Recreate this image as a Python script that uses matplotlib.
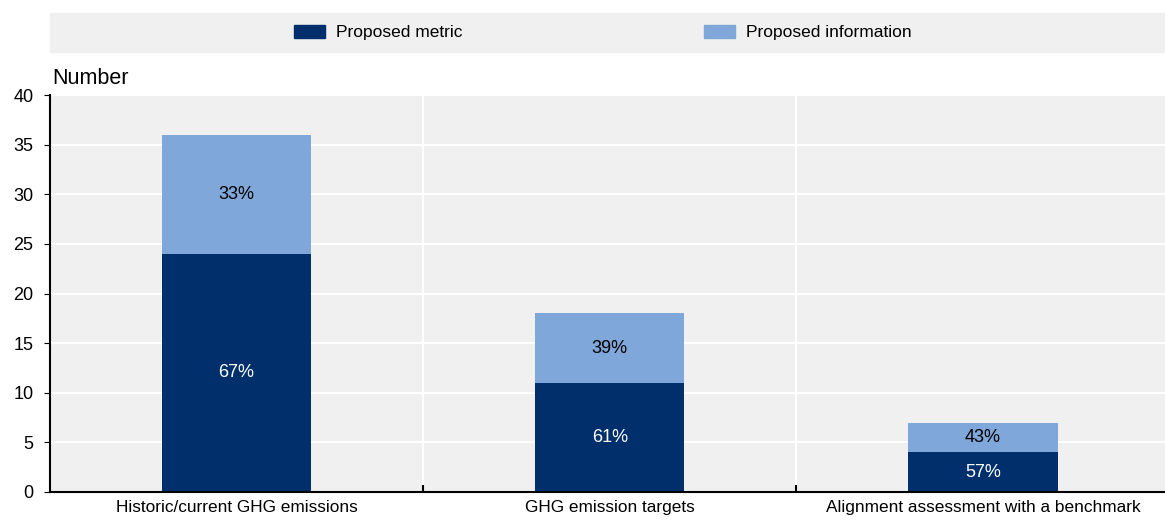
import numpy as np
import matplotlib
matplotlib.use("Agg")
import matplotlib.pyplot as plt
from matplotlib.patches import Rectangle

plt.rcParams["font.family"] = ["Liberation Sans", "DejaVu Sans"]

categories = ["Historic/current GHG emissions", "GHG emission targets",
              "Alignment assessment with a benchmark"]
metric = [24, 11, 4]
information = [12, 7, 3]
series_names = ["Proposed metric", "Proposed information"]

DARK = "#002F6C"
LIGHT = "#7FA7D9"
BG = "#F0F0F0"

fig = plt.figure(figsize=(11.65, 5.22), dpi=100)
ax = fig.add_axes([50/1165, 30/522, 1 - 50/1165 + 0.004, 397/522])
ax.set_facecolor(BG)

x = np.arange(len(categories))
w = 0.4
ax.bar(x, metric, w, color=DARK, zorder=3)
ax.bar(x, information, w, bottom=metric, color=LIGHT, zorder=3)

for i in range(len(categories)):
    tot = metric[i] + information[i]
    ax.text(x[i], metric[i] / 2, f"{round(100*metric[i]/tot)}%",
            ha="center", va="center", color="white", fontsize=13, zorder=4)
    ax.text(x[i], metric[i] + information[i] / 2,
            f"{round(100*information[i]/tot)}%",
            ha="center", va="center", color="black", fontsize=13, zorder=4)

ax.set_ylim(0, 40)
ax.set_yticks(range(0, 41, 5))
ax.set_xlim(-0.5, 2.5)
ax.set_xticks(x)
ax.set_xticklabels(categories, fontsize=12.4)
ax.tick_params(axis="x", length=0, pad=6)
ax.tick_params(axis="y", labelsize=13, length=4, direction="out", pad=8)
ax.set_xticks([0.5, 1.5], minor=True)
ax.tick_params(axis="x", which="minor", direction="in", length=5, width=1.5)
ax.grid(axis="y", color="white", lw=1.5, zorder=1)
for b in (0.5, 1.5):
    ax.axvline(b, color="white", lw=1.5, zorder=1)
for s in ("top", "right"):
    ax.spines[s].set_visible(False)
for s in ("left", "bottom"):
    ax.spines[s].set_linewidth(1.5)
    ax.spines[s].set_zorder(5)

fig.text(52/1165, 1 - 78/522, "Number", fontsize=15.5, va="center", ha="left")

# legend band
fig.patches.append(Rectangle((50/1165, 1 - 52/522), 1 - 50/1165, 39/522,
                             transform=fig.transFigure, color=BG, zorder=0))
for px, col, name in ((294, DARK, series_names[0]), (704, LIGHT, series_names[1])):
    fig.patches.append(Rectangle((px/1165, 1 - 38/522), 31/1165, 13/522,
                                 transform=fig.transFigure, color=col, zorder=1))
    fig.text((px + 42)/1165, 1 - 32/522, name, fontsize=12.5, va="center", ha="left")

fig.savefig("out.png", dpi=100)
